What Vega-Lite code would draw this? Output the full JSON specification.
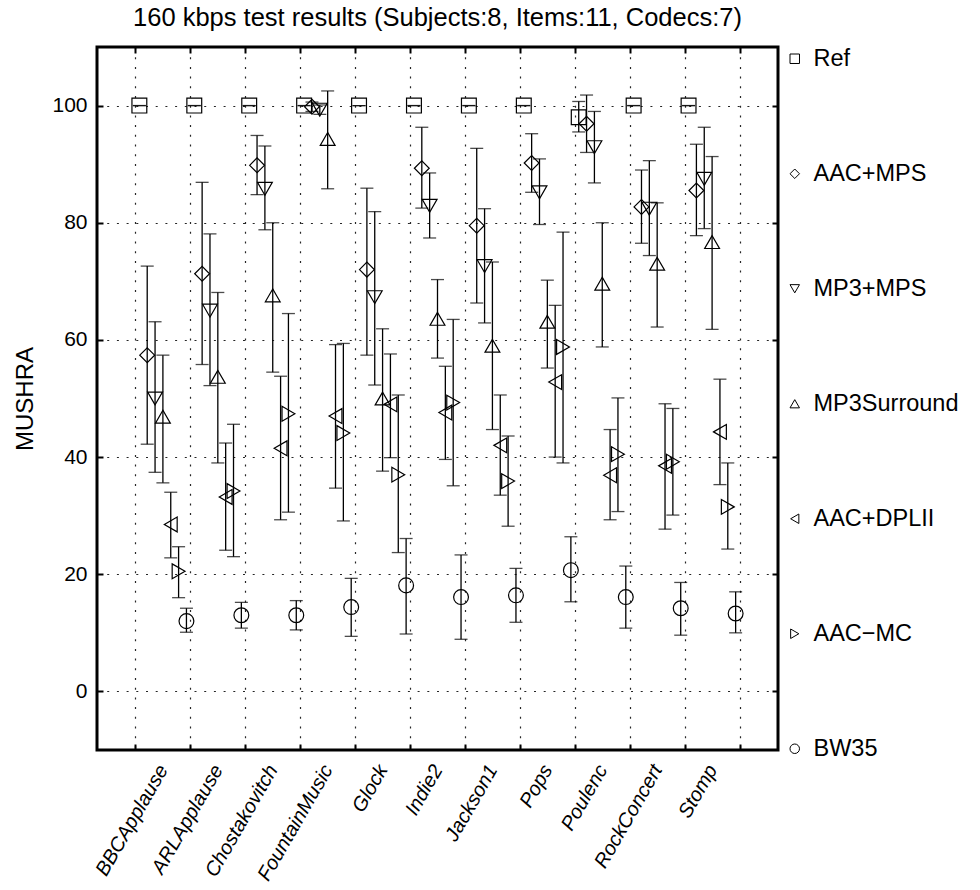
{
  "$schema": "https://vega.github.io/schema/vega-lite/v6.json",
  "width": 681,
  "height": 703,
  "autosize": {"type": "pad"},
  "padding": {"left": 13, "top": 5, "right": 0, "bottom": 0},
  "background": "white",
  "title": {
    "text": "160 kbps test results (Subjects:8, Items:11, Codecs:7)",
    "font": "Liberation Sans",
    "fontSize": 25.5,
    "fontWeight": "normal",
    "color": "black",
    "anchor": "middle",
    "offset": 15
  },
  "config": {
    "font": "Liberation Sans",
    "view": {"stroke": "black", "strokeWidth": 3},
    "axis": {
      "labelColor": "black",
      "titleColor": "black",
      "tickColor": "black",
      "gridColor": "black",
      "gridOpacity": 0.85,
      "gridDash": [2, 7.7],
      "gridWidth": 1.2,
      "domain": false
    },
    "legend": {
      "orient": "right",
      "offset": 4,
      "padding": 0,
      "title": null,
      "symbolSize": 90,
      "symbolStrokeColor": "black",
      "symbolFillColor": "transparent",
      "symbolStrokeWidth": 1,
      "labelFontSize": 23.5,
      "labelFont": "Liberation Sans",
      "labelColor": "black",
      "labelOffset": 7,
      "labelLimit": 300,
      "rowPadding": 90
    }
  },
  "data": {
    "values": [
      {"item": "BBCApplause", "codec": "Ref", "m": 100, "lo": 100, "hi": 100},
      {"item": "BBCApplause", "codec": "AAC+MPS", "m": 57.4, "lo": 42.2, "hi": 72.6},
      {"item": "BBCApplause", "codec": "MP3+MPS", "m": 50, "lo": 37.4, "hi": 63.1},
      {"item": "BBCApplause", "codec": "MP3Surround", "m": 46.9, "lo": 35.6, "hi": 57.4},
      {"item": "BBCApplause", "codec": "AAC+DPLII", "m": 28.5, "lo": 22.8, "hi": 34},
      {"item": "BBCApplause", "codec": "AAC-MC", "m": 20.5, "lo": 16, "hi": 24.7},
      {"item": "BBCApplause", "codec": "BW35", "m": 12, "lo": 10.1, "hi": 14.2},

      {"item": "ARLApplause", "codec": "Ref", "m": 100, "lo": 100, "hi": 100},
      {"item": "ARLApplause", "codec": "AAC+MPS", "m": 71.3, "lo": 55.8, "hi": 86.9},
      {"item": "ARLApplause", "codec": "MP3+MPS", "m": 65, "lo": 52.2, "hi": 78.1},
      {"item": "ARLApplause", "codec": "MP3Surround", "m": 53.7, "lo": 39, "hi": 68.1},
      {"item": "ARLApplause", "codec": "AAC+DPLII", "m": 33.2, "lo": 24.1, "hi": 42.4},
      {"item": "ARLApplause", "codec": "AAC-MC", "m": 34.2, "lo": 23, "hi": 45.6},
      {"item": "ARLApplause", "codec": "BW35", "m": 13, "lo": 10.8, "hi": 15.2},

      {"item": "Chostakovitch", "codec": "Ref", "m": 100, "lo": 100, "hi": 100},
      {"item": "Chostakovitch", "codec": "AAC+MPS", "m": 89.8, "lo": 84.8, "hi": 94.9},
      {"item": "Chostakovitch", "codec": "MP3+MPS", "m": 85.8, "lo": 78.8, "hi": 93.1},
      {"item": "Chostakovitch", "codec": "MP3Surround", "m": 67.6, "lo": 54.5, "hi": 80},
      {"item": "Chostakovitch", "codec": "AAC+DPLII", "m": 41.5, "lo": 29.3, "hi": 53.8},
      {"item": "Chostakovitch", "codec": "AAC-MC", "m": 47.4, "lo": 30.6, "hi": 64.5},
      {"item": "Chostakovitch", "codec": "BW35", "m": 13, "lo": 10.5, "hi": 15.5},

      {"item": "FountainMusic", "codec": "Ref", "m": 100, "lo": 100, "hi": 100},
      {"item": "FountainMusic", "codec": "AAC+MPS", "m": 99.8, "lo": 99, "hi": 100.6},
      {"item": "FountainMusic", "codec": "MP3+MPS", "m": 99.3, "lo": 98.5, "hi": 100.1},
      {"item": "FountainMusic", "codec": "MP3Surround", "m": 94.3, "lo": 85.8, "hi": 102.5},
      {"item": "FountainMusic", "codec": "AAC+DPLII", "m": 47, "lo": 34.7, "hi": 59.2},
      {"item": "FountainMusic", "codec": "AAC-MC", "m": 44.1, "lo": 29.1, "hi": 59.4},
      {"item": "FountainMusic", "codec": "BW35", "m": 14.4, "lo": 9.4, "hi": 19.3},

      {"item": "Glock", "codec": "Ref", "m": 100, "lo": 100, "hi": 100},
      {"item": "Glock", "codec": "AAC+MPS", "m": 72, "lo": 57.4, "hi": 85.9},
      {"item": "Glock", "codec": "MP3+MPS", "m": 67.3, "lo": 52.3, "hi": 81.9},
      {"item": "Glock", "codec": "MP3Surround", "m": 50, "lo": 37.6, "hi": 61.9},
      {"item": "Glock", "codec": "AAC+DPLII", "m": 49, "lo": 39.9, "hi": 57.6},
      {"item": "Glock", "codec": "AAC-MC", "m": 37, "lo": 23.7, "hi": 50.6},
      {"item": "Glock", "codec": "BW35", "m": 18.1, "lo": 9.8, "hi": 26.1},

      {"item": "Indie2", "codec": "Ref", "m": 100, "lo": 100, "hi": 100},
      {"item": "Indie2", "codec": "AAC+MPS", "m": 89.3, "lo": 82.5, "hi": 96.3},
      {"item": "Indie2", "codec": "MP3+MPS", "m": 82.9, "lo": 77.4, "hi": 88.5},
      {"item": "Indie2", "codec": "MP3Surround", "m": 63.6, "lo": 56.9, "hi": 70.3},
      {"item": "Indie2", "codec": "AAC+DPLII", "m": 47.6, "lo": 39.6, "hi": 55.5},
      {"item": "Indie2", "codec": "AAC-MC", "m": 49.3, "lo": 35.1, "hi": 63.5},
      {"item": "Indie2", "codec": "BW35", "m": 16.1, "lo": 8.9, "hi": 23.3},

      {"item": "Jackson1", "codec": "Ref", "m": 100, "lo": 100, "hi": 100},
      {"item": "Jackson1", "codec": "AAC+MPS", "m": 79.5, "lo": 66.3, "hi": 92.7},
      {"item": "Jackson1", "codec": "MP3+MPS", "m": 72.6, "lo": 62.9, "hi": 82.4},
      {"item": "Jackson1", "codec": "MP3Surround", "m": 59, "lo": 44.7, "hi": 73.3},
      {"item": "Jackson1", "codec": "AAC+DPLII", "m": 42, "lo": 33.5, "hi": 50.6},
      {"item": "Jackson1", "codec": "AAC-MC", "m": 35.9, "lo": 28.2, "hi": 43.6},
      {"item": "Jackson1", "codec": "BW35", "m": 16.4, "lo": 11.8, "hi": 21},

      {"item": "Pops", "codec": "Ref", "m": 100, "lo": 100, "hi": 100},
      {"item": "Pops", "codec": "AAC+MPS", "m": 90.2, "lo": 85.2, "hi": 95.2},
      {"item": "Pops", "codec": "MP3+MPS", "m": 85.2, "lo": 79.7, "hi": 90.9},
      {"item": "Pops", "codec": "MP3Surround", "m": 63.1, "lo": 55.2, "hi": 70.2},
      {"item": "Pops", "codec": "AAC+DPLII", "m": 52.8, "lo": 40, "hi": 65.9},
      {"item": "Pops", "codec": "AAC-MC", "m": 58.8, "lo": 39, "hi": 78.4},
      {"item": "Pops", "codec": "BW35", "m": 20.7, "lo": 15.3, "hi": 26.4},

      {"item": "Poulenc", "codec": "Ref", "m": 98, "lo": 95.5, "hi": 100.7},
      {"item": "Poulenc", "codec": "AAC+MPS", "m": 96.9, "lo": 92, "hi": 101.8},
      {"item": "Poulenc", "codec": "MP3+MPS", "m": 92.9, "lo": 86.8, "hi": 99},
      {"item": "Poulenc", "codec": "MP3Surround", "m": 69.6, "lo": 58.8, "hi": 80},
      {"item": "Poulenc", "codec": "AAC+DPLII", "m": 36.9, "lo": 29.3, "hi": 44.7},
      {"item": "Poulenc", "codec": "AAC-MC", "m": 40.5, "lo": 30.7, "hi": 50.1},
      {"item": "Poulenc", "codec": "BW35", "m": 16.1, "lo": 10.8, "hi": 21.4},

      {"item": "RockConcert", "codec": "Ref", "m": 100, "lo": 100, "hi": 100},
      {"item": "RockConcert", "codec": "AAC+MPS", "m": 82.7, "lo": 76.5, "hi": 89},
      {"item": "RockConcert", "codec": "MP3+MPS", "m": 82.4, "lo": 74.4, "hi": 90.6},
      {"item": "RockConcert", "codec": "MP3Surround", "m": 73, "lo": 62.2, "hi": 83.4},
      {"item": "RockConcert", "codec": "AAC+DPLII", "m": 38.5, "lo": 27.7, "hi": 49.1},
      {"item": "RockConcert", "codec": "AAC-MC", "m": 39.2, "lo": 30.1, "hi": 48.3},
      {"item": "RockConcert", "codec": "BW35", "m": 14.2, "lo": 9.6, "hi": 18.6},

      {"item": "Stomp", "codec": "Ref", "m": 100, "lo": 100, "hi": 100},
      {"item": "Stomp", "codec": "AAC+MPS", "m": 85.5, "lo": 77.8, "hi": 93.4},
      {"item": "Stomp", "codec": "MP3+MPS", "m": 87.5, "lo": 79, "hi": 96.3},
      {"item": "Stomp", "codec": "MP3Surround", "m": 76.7, "lo": 61.8, "hi": 91.3},
      {"item": "Stomp", "codec": "AAC+DPLII", "m": 44.3, "lo": 35.3, "hi": 53.3},
      {"item": "Stomp", "codec": "AAC-MC", "m": 31.5, "lo": 24.3, "hi": 39},
      {"item": "Stomp", "codec": "BW35", "m": 13.3, "lo": 10, "hi": 17}
    ]
  },
  "encoding": {
    "x": {
      "field": "item",
      "type": "nominal",
      "sort": ["BBCApplause", "ARLApplause", "Chostakovitch", "FountainMusic", "Glock", "Indie2", "Jackson1", "Pops", "Poulenc", "RockConcert", "Stomp"],
      "scale": {"paddingInner": 0, "paddingOuter": 0.7},
      "title": null,
      "axis": {
        "orient": "bottom",
        "tickBand": "extent",
        "grid": true,
        "ticks": true,
        "tickSize": -6,
        "tickWidth": 2,
        "labelAngle": -60,
        "labelAlign": "right",
        "labelBaseline": "middle",
        "labelFontSize": 20,
        "labelFontStyle": "italic",
        "labelPadding": 22,
        "title": null
      }
    },
    "xOffset": {
      "field": "codec",
      "type": "nominal",
      "sort": ["Ref", "AAC+MPS", "MP3+MPS", "MP3Surround", "AAC+DPLII", "AAC-MC", "BW35"],
      "scale": {"paddingInner": 0, "paddingOuter": 0}
    }
  },
  "layer": [
    {
      "layer": [
        {
          "mark": {"type": "rule", "color": "black", "strokeWidth": 1.3},
          "encoding": {
            "y": {
              "field": "lo",
              "type": "quantitative",
              "scale": {"domain": [-10, 110], "nice": false, "zero": false},
              "title": "MUSHRA",
              "axis": {
                "orient": "left",
                "values": [0, 20, 40, 60, 80, 100],
                "grid": true,
                "tickSize": -6,
                "tickWidth": 2,
                "labelFontSize": 21,
                "labelPadding": 16,
                "title": "MUSHRA",
                "titleFontSize": 24,
                "titleFontWeight": "normal",
                "titlePadding": 14
              }
            },
            "y2": {"field": "hi"}
          }
        },
        {
          "mark": {"type": "tick", "color": "black", "size": 13, "thickness": 1.3},
          "encoding": {"y": {"field": "lo", "type": "quantitative", "title": "MUSHRA"}}
        },
        {
          "mark": {"type": "tick", "color": "black", "size": 13, "thickness": 1.3},
          "encoding": {"y": {"field": "hi", "type": "quantitative", "title": "MUSHRA"}}
        },
        {
          "mark": {"type": "point", "filled": false, "stroke": "black", "strokeWidth": 1.2, "opacity": 1, "size": 220},
          "encoding": {
            "y": {"field": "m", "type": "quantitative", "title": "MUSHRA"},
            "shape": {
              "field": "codec",
              "type": "nominal",
              "scale": {
                "domain": ["Ref", "AAC+MPS", "MP3+MPS", "MP3Surround", "AAC+DPLII", "AAC-MC", "BW35"],
                "range": ["square", "diamond", "triangle-down", "triangle-up", "triangle-left", "triangle-right", "circle"]
              },
              "legend": {
                "title": null,
                "labelExpr": "datum.label == 'AAC-MC' ? 'AAC\u2212MC' : datum.label"
              }
            }
          }
        }
      ]
    },
    {
      "mark": {"type": "point", "opacity": 0},
      "encoding": {
        "x": {
          "field": "item",
          "type": "nominal",
          "sort": ["BBCApplause", "ARLApplause", "Chostakovitch", "FountainMusic", "Glock", "Indie2", "Jackson1", "Pops", "Poulenc", "RockConcert", "Stomp"],
          "title": null,
          "axis": {"orient": "top", "tickBand": "extent", "labels": false, "grid": false, "ticks": true, "tickSize": -6, "tickWidth": 2, "title": null}
        },
        "y": {
          "field": "m",
          "type": "quantitative",
          "title": null,
          "axis": {"orient": "right", "values": [0, 20, 40, 60, 80, 100], "labels": false, "grid": false, "ticks": true, "tickSize": -6, "tickWidth": 2, "title": null}
        }
      }
    }
  ],
  "resolve": {"axis": {"x": "independent", "y": "independent"}}
}
